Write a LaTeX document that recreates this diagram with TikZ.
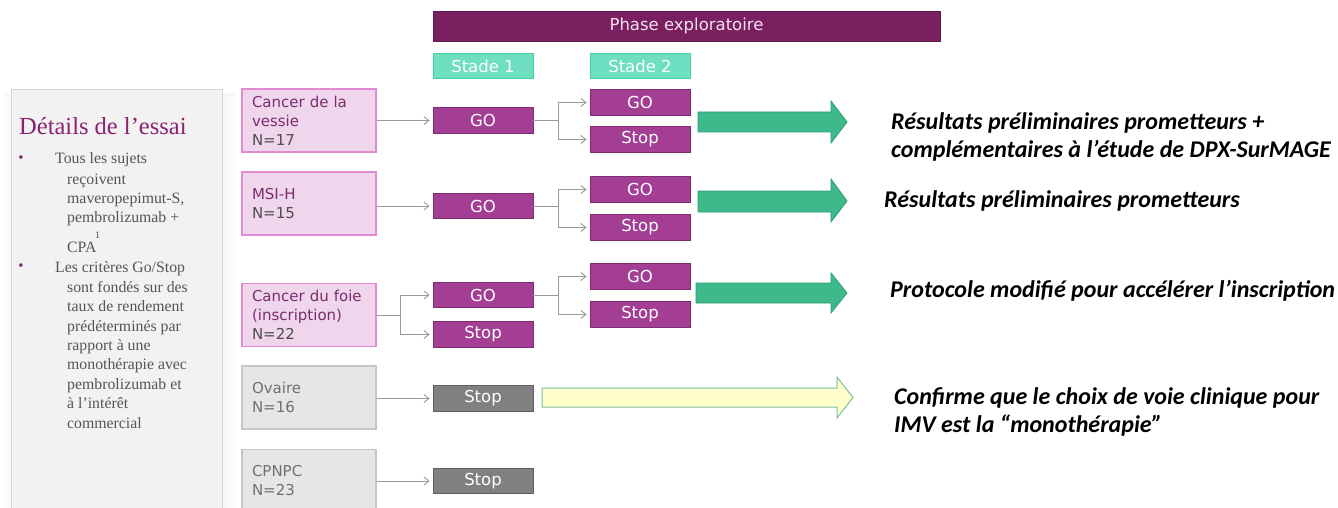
\documentclass[tikz,border=0pt]{standalone}
\usepackage{fontspec}
\setmainfont{Liberation Serif}
\newfontfamily\dvs{DejaVu Sans}
\newfontfamily\crl{Carlito}
\usetikzlibrary{arrows.meta,calc}
\definecolor{phaseC}{HTML}{7A1F5F}
\definecolor{phaseT}{HTML}{F2E2F0}
\definecolor{stadeF}{HTML}{6EDFC0}
\definecolor{stadeB}{HTML}{3FD2A2}
\definecolor{goF}{HTML}{A33E94}
\definecolor{goB}{HTML}{7E2C72}
\definecolor{stF}{HTML}{808080}
\definecolor{stB}{HTML}{5E5E5E}
\definecolor{pinkF}{HTML}{F0D6EC}
\definecolor{pinkB}{HTML}{E38BD0}
\definecolor{purT}{HTML}{7B2C6E}
\definecolor{nT}{HTML}{4D4D4D}
\definecolor{greyF}{HTML}{E6E6E6}
\definecolor{greyB}{HTML}{C6C6C6}
\definecolor{greyT}{HTML}{707070}
\definecolor{connC}{HTML}{9A9A9A}
\definecolor{grnF}{HTML}{3DB98B}
\definecolor{grnB}{HTML}{2E9E74}
\definecolor{yelF}{HTML}{FFFFCC}
\definecolor{yelB}{HTML}{7CC09A}
\definecolor{sideF}{HTML}{F2F2F2}
\definecolor{sideB}{HTML}{D6D6D6}
\definecolor{sideT}{HTML}{555555}
\definecolor{titleC}{HTML}{8A2272}
\begin{document}
\begin{tikzpicture}[x=1pt,y=-1pt,
  cohortP/.style={draw=pinkB, fill=pinkF, line width=1.2pt, minimum width=134pt, minimum height=63pt,
    text width=114pt, inner xsep=10pt, inner ysep=0pt, align=left,
    font=\dvs\fontsize{15}{19}\selectfont, text=purT},
  cohortG/.style={cohortP, draw=greyB, fill=greyF, text=greyT},
  stagebox/.style={minimum width=100pt, minimum height=25.5pt, inner sep=0pt,
    font=\dvs\fontsize{16.5}{17}\selectfont, text=white, line width=0.8pt},
  goP/.style={stagebox, draw=goB, fill=goF},
  stopG/.style={stagebox, draw=stB, fill=stF},
  stade/.style={stagebox, draw=stadeB, fill=stadeF, line width=1pt},
  conn/.style={draw=connC, line width=0.9pt},
  arr/.style={conn, -{Straight Barb[length=5pt,width=8pt]}, shorten >=3pt},
  garrow/.style={draw=grnB, fill=grnF, line width=0.8pt, line join=miter},
  yarrow/.style={draw=yelB, fill=yelF, line width=1pt, line join=miter},
  side/.style={anchor=base west, inner sep=0pt, font=\fontsize{15.8}{19}\selectfont, text=sideT},
  bul/.style={anchor=center, inner sep=0pt, font=\fontsize{15}{15}\selectfont, text=purT},
  res/.style={anchor=west, align=left, inner sep=0pt, font=\crl\bfseries\itshape\fontsize{24}{28}\selectfont, text=black}
]
\useasboundingbox (0,0) rectangle (1338,508);
\fill[white] (0,0) rectangle (1338,508);

% side panel
\fill[black!2] (222,93) rectangle (236,520);
\fill[black!3] (222,93) rectangle (229,520);
\fill[black!2] (4,93) rectangle (11,520);
\draw[draw=sideB, fill=sideF, line width=1pt] (11,90) rectangle (222,520);
\node[anchor=base west, inner sep=0pt, font=\fontsize{24.5}{24.5}\selectfont, text=titleC] (ttl) at (19,135) {Détails de l’essai};
\node[bul] (bu1) at (21,159) {•};
\node[bul] (bu2) at (21,267) {•};
\node[side] (l1) at (55,164) {Tous les sujets};
\node[side] (l2) at (67,184) {reçoivent};
\node[side] (l3) at (67,203) {maveropepimut-S,};
\node[side] (l4) at (67,222) {pembrolizumab +};
\node[side] (l5) at (67,252) {CPA};
\node[anchor=base west, inner sep=0pt, font=\fontsize{10}{10}\selectfont, text=sideT] (l5s) at (95,238) {1};
\node[side] (l6) at (55,272) {Les critères Go/Stop};
\node[side] (l7) at (67,292) {sont fondés sur des};
\node[side] (l8) at (67,311) {taux de rendement};
\node[side] (l9) at (67,331) {prédéterminés par};
\node[side] (l10) at (67,350) {rapport à une};
\node[side] (l11) at (67,369) {monothérapie avec};
\node[side] (l12) at (67,389) {pembrolizumab et};
\node[side] (l13) at (67,408) {à l’intérêt};
\node[side] (l14) at (67,428) {commercial};

% header
\node[fill=phaseC, draw=phaseC!80!black, line width=0.6pt, minimum width=507pt, minimum height=30pt, inner sep=0pt,
  font=\dvs\fontsize{16.5}{16.5}\selectfont, text=phaseT] (phase) at (686.5,26) {Phase exploratoire};
\node[stade] (st1) at (483,66) {Stade 1};
\node[stade] (st2) at (640,66) {Stade 2};

% cohorts
\node[cohortP] (c1) at (309,120.5) {Cancer de la\\vessie\\\textcolor{nT}{N=17}};
\node[cohortP] (c2) at (309,203.5) {MSI-H\\\textcolor{nT}{N=15}};
\node[cohortP] (c3) at (309,315) {Cancer du foie\\(inscription)\\\textcolor{nT}{N=22}};
\node[cohortG] (c4) at (309,397.5) {Ovaire\\N=16};
\node[cohortG] (c5) at (309,481) {CPNPC\\N=23};

% stage 1
\node[goP] (g1) at (483,120.5) {GO};
\node[goP] (g2) at (483,206) {GO};
\node[goP] (g3) at (483,295) {GO};
\node[goP] (s3) at (483,334.5) {Stop};
\node[stopG] (s4) at (483,398.5) {Stop};
\node[stopG] (s5) at (483,481) {Stop};

% stage 2
\node[goP] (a1) at (640,102.5) {GO};
\node[goP] (b1) at (640,139.5) {Stop};
\node[goP] (a2) at (640,189.5) {GO};
\node[goP] (b2) at (640,227.5) {Stop};
\node[goP] (a3) at (640,276.5) {GO};
\node[goP] (b3) at (640,314.5) {Stop};

% connectors
\draw[arr] (c1.east |- g1.west) -- (g1.west);
\draw[arr] (c2.east |- g2.west) -- (g2.west);
\draw[arr] (c4.east |- s4.west) -- (s4.west);
\draw[arr] (c5.east |- s5.west) -- (s5.west);
\coordinate (k3) at ($(c3.east)+(24,0)$);
\draw[conn] (c3.east) -- (k3);
\draw[arr] (k3) |- (g3.west);
\draw[arr] (k3) |- (s3.west);
\coordinate (k1) at ($(g1.east)+(25,0)$);
\draw[conn] (g1.east) -- (k1);
\draw[arr] (k1) |- (a1.west);
\draw[arr] (k1) |- (b1.west);
\coordinate (k2) at ($(g2.east)+(25,0)$);
\draw[conn] (g2.east) -- (k2);
\draw[arr] (k2) |- (a2.west);
\draw[arr] (k2) |- (b2.west);
\coordinate (k4) at ($(g3.east)+(25,0)$);
\draw[conn] (g3.east) -- (k4);
\draw[arr] (k4) |- (a3.west);
\draw[arr] (k4) |- (b3.west);

% big arrows
\draw[garrow] (698,112) -- (831,112) -- (831,101) -- (847,122) -- (831,143) -- (831,132) -- (698,132) -- cycle;
\draw[garrow] (698,191) -- (831,191) -- (831,179) -- (847,201) -- (831,222) -- (831,212) -- (698,212) -- cycle;
\draw[garrow] (696,283) -- (831,283) -- (831,273) -- (847,293) -- (831,313) -- (831,303) -- (696,303) -- cycle;
\draw[yarrow] (542,388) -- (837,388) -- (837,377) -- (853,397.5) -- (837,418) -- (837,407) -- (542,407) -- cycle;

% results
\node[res] (r1) at (891,137) {Résultats préliminaires prometteurs +\\complémentaires à l’étude de DPX-SurMAGE};
\node[res] (r2) at (884,201) {Résultats préliminaires prometteurs};
\node[res] (r3) at (890,291) {Protocole modifié pour accélérer l’inscription};
\node[res] (r4) at (894,412) {Confirme que le choix de voie clinique pour\\IMV est la “monothérapie”};
\end{tikzpicture}
\end{document}
